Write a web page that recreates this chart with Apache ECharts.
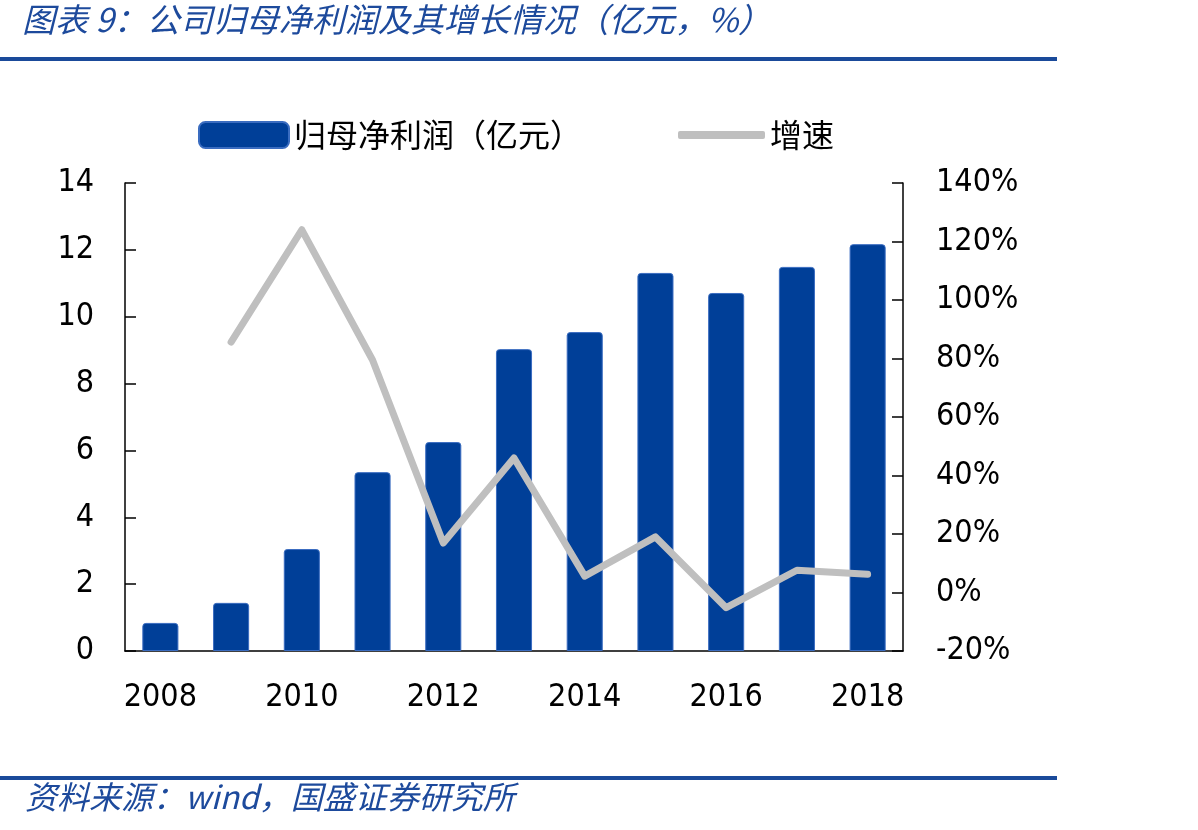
<!DOCTYPE html>
<html>
<head>
<meta charset="utf-8">
<script src="https://cdn.jsdelivr.net/npm/echarts@6/dist/echarts.min.js"></script>
<style>
  html, body { margin: 0; padding: 0; background: #fff; }
  #chart { width: 1198px; height: 830px; }
</style>
</head>
<body>
<div id="chart"></div>
<script>
// 数据
const years = ['2008', '2009', '2010', '2011', '2012', '2013', '2014', '2015', '2016', '2017', '2018']
const profit = [0.84, 1.44, 3.05, 5.35, 6.25, 9.03, 9.54, 11.31, 10.71, 11.49, 12.17]
const growth = ['-', 85.6, 124, 79.5, 16.9, 46, 5.6, 19, -5.2, 7.6, 6.2]

const blue = '#003f98'
const grey = '#bfbfbf'
const titleBlue = '#1d4a9c'
const labelFont = 'DejaVu Sans Condensed'
const cjkFont = 'Noto Sans CJK SC'

const chart = echarts.init(document.getElementById('chart'))

const legendText = { fontFamily: cjkFont, fontSize: 32, color: '#000' }

const option = {
  animation: false,
  backgroundColor: '#fff',
  legend: [
    {
      top: 119,
      left: 198,
      padding: 0,
      itemWidth: 90,
      itemHeight: 26,
      textStyle: legendText,
      data: [{ name: '归母净利润（亿元）', icon: 'roundRect' }]
    },
    {
      top: 119,
      left: 678,
      padding: 0,
      itemWidth: 87,
      itemHeight: 8,
      itemGap: 8,
      textStyle: legendText,
      data: [{ name: '增速', icon: 'roundRect', itemStyle: { color: grey } }]
    }
  ],
  grid: { left: 125, right: 295, top: 183, bottom: 179 },
  xAxis: {
    type: 'category',
    data: years,
    axisLine: { lineStyle: { color: '#000', width: 1.5 } },
    axisTick: { inside: true, length: 12, interval: 0, lineStyle: { color: '#000', width: 1.5 } },
    axisLabel: { interval: 1, margin: 31, color: '#000', fontSize: 32, fontFamily: labelFont }
  },
  yAxis: [
    {
      type: 'value',
      min: 0,
      max: 14,
      interval: 2,
      splitLine: { show: false },
      axisLine: { show: true, lineStyle: { color: '#000', width: 1.5 } },
      axisTick: { show: true, inside: true, length: 11, lineStyle: { color: '#000', width: 1.5 } },
      axisLabel: { margin: 31, color: '#000', fontSize: 32, fontFamily: labelFont }
    },
    {
      type: 'value',
      min: -20,
      max: 140,
      interval: 20,
      splitLine: { show: false },
      axisLine: { show: true, lineStyle: { color: '#000', width: 1.5 } },
      axisTick: { show: true, inside: true, length: 11, lineStyle: { color: '#000', width: 1.5 } },
      axisLabel: { margin: 33, color: '#000', fontSize: 32, fontFamily: labelFont, formatter: '{value}%' }
    }
  ],
  series: [
    {
      name: '归母净利润（亿元）',
      type: 'bar',
      data: profit,
      barWidth: '51%',
      itemStyle: {
        color: blue,
        borderColor: '#3a6cc0',
        borderWidth: 1,
        borderRadius: [3, 3, 0, 0]
      }
    },
    {
      name: '增速',
      type: 'line',
      yAxisIndex: 1,
      data: growth,
      symbol: 'none',
      lineStyle: { color: grey, width: 7, cap: 'round', join: 'round' },
      itemStyle: { color: grey }
    }
  ],
  graphic: [
    {
      type: 'text',
      left: 22,
      top: 3,
      style: {
        text: '图表 9：公司归母净利润及其增长情况（亿元，%）',
        fill: titleBlue,
        font: 'italic 33px "Noto Sans CJK SC"'
      }
    },
    { type: 'rect', left: 0, top: 57, shape: { width: 1057, height: 4 }, style: { fill: '#1a4a9a' } },
    { type: 'rect', left: 0, top: 776, shape: { width: 1057, height: 4 }, style: { fill: '#1a4a9a' } },
    {
      type: 'text',
      left: 25,
      top: 781,
      style: {
        text: '资料来源：wind，国盛证券研究所',
        fill: titleBlue,
        font: 'italic 32px "Noto Sans CJK SC"'
      }
    }
  ]
}

chart.setOption(option)
</script>
</body>
</html>
